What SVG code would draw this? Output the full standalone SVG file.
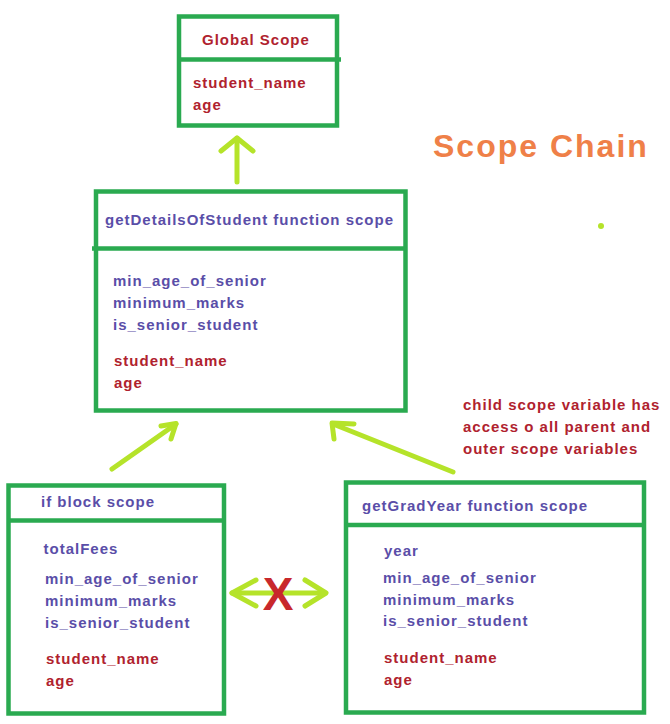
<svg xmlns="http://www.w3.org/2000/svg" width="670" height="724" viewBox="0 0 670 724">
  <style>
    .box { fill: none; stroke: #2aaa50; stroke-width: 4.5; }
    .t { font-family: "Liberation Sans", Arial, sans-serif; font-weight: bold; font-size: 15px; letter-spacing: 1px; }
    .blue { fill: #5a4ea8; }
    .red { fill: #b0222e; }
    .arrow { fill: none; stroke: #b5e32a; stroke-width: 5; stroke-linecap: round; stroke-linejoin: round; }
  </style>
  <rect width="670" height="724" fill="#ffffff"/>

  <g id="title">
    <text x="433" y="157" font-family="'Liberation Sans', Arial, sans-serif" font-weight="bold" font-size="32" letter-spacing="2" fill="#ef8048">Scope Chain</text>
  </g>

  <g id="global-scope">
    <rect class="box" x="179" y="16.5" width="158" height="109"/>
    <line class="box" x1="179" y1="59.5" x2="341" y2="59.5"/>
    <text class="t red" x="202" y="45">Global Scope</text>
    <text class="t red" x="193" y="88">student_name</text>
    <text class="t red" x="193" y="110">age</text>
  </g>

  <g id="getDetails-scope">
    <rect class="box" x="96" y="191.5" width="309.5" height="219"/>
    <line class="box" x1="92" y1="248.5" x2="405.5" y2="248.5"/>
    <text class="t blue" x="105" y="225">getDetailsOfStudent function scope</text>
    <text class="t blue" x="113" y="286">min_age_of_senior</text>
    <text class="t blue" x="113" y="308">minimum_marks</text>
    <text class="t blue" x="113" y="329.5">is_senior_student</text>
    <text class="t red" x="114" y="366">student_name</text>
    <text class="t red" x="114" y="388">age</text>
  </g>

  <g id="if-block-scope">
    <rect class="box" x="8.5" y="485.5" width="215.5" height="228"/>
    <line class="box" x1="8.5" y1="520.5" x2="224" y2="520.5"/>
    <text class="t blue" x="41" y="507">if block scope</text>
    <text class="t blue" x="43.5" y="553.5">totalFees</text>
    <text class="t blue" x="45" y="584">min_age_of_senior</text>
    <text class="t blue" x="45" y="606">minimum_marks</text>
    <text class="t blue" x="45" y="627.5">is_senior_student</text>
    <text class="t red" x="46" y="664">student_name</text>
    <text class="t red" x="46" y="685.5">age</text>
  </g>

  <g id="getGradYear-scope">
    <rect class="box" x="346" y="482.5" width="298" height="230"/>
    <line class="box" x1="346" y1="525" x2="644" y2="525"/>
    <text class="t blue" x="362" y="511">getGradYear function scope</text>
    <text class="t blue" x="384" y="556">year</text>
    <text class="t blue" x="383" y="583">min_age_of_senior</text>
    <text class="t blue" x="383" y="604.5">minimum_marks</text>
    <text class="t blue" x="383" y="626">is_senior_student</text>
    <text class="t red" x="384" y="663">student_name</text>
    <text class="t red" x="384" y="684.5">age</text>
  </g>

  <g id="note">
    <text class="t red" x="463" y="410">child scope variable has</text>
    <text class="t red" x="463" y="432">access o all parent and</text>
    <text class="t red" x="463" y="453.5">outer scope variables</text>
  </g>

  <g id="connectors">
    <line class="arrow" x1="237" y1="182" x2="237" y2="138"/>
    <polyline class="arrow" points="221,151 237,138 253,151"/>

    <line class="arrow" x1="112" y1="469" x2="176" y2="424"/>
    <polyline class="arrow" points="161,426 176,423.5 171,439"/>

    <line class="arrow" x1="453" y1="472" x2="333" y2="424"/>
    <polyline class="arrow" points="354,424 332,423 334,439"/>

    <line class="arrow" x1="232" y1="593" x2="325" y2="593"/>
    <polyline class="arrow" points="256,580 232,593 256,606"/>
    <polyline class="arrow" points="305,580 326,593 305,606"/>
    <text x="278" y="610" text-anchor="middle" font-family="'Liberation Sans', Arial, sans-serif" font-weight="bold" font-size="46" fill="#c8282c">X</text>

    <circle cx="601" cy="226" r="3" fill="#b5e32a"/>
  </g>
</svg>
